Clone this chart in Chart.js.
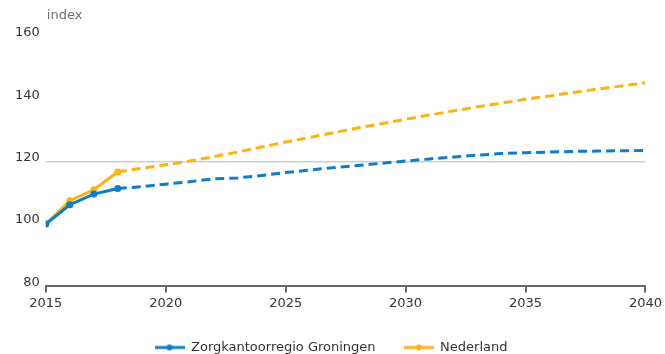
<!DOCTYPE html>
<html>
<head>
<meta charset="utf-8">
<script src="https://cdn.jsdelivr.net/npm/chart.js@4/dist/chart.umd.min.js"></script>
<style>
  html, body { margin: 0; padding: 0; background: #fff; }
  #wrap { width: 665px; height: 354px; position: relative; }
</style>
</head>
<body>
<div id="wrap"><canvas id="chart"></canvas></div>
<script>
// years 2015 - 2040
const years = [2015,2016,2017,2018,2019,2020,2021,2022,2023,2024,2025,2026,2027,
  2028,2029,2030,2031,2032,2033,2034,2035,2036,2037,2038,2039,2040];

const groningen = [100,106.2,109.6,111.4,112.0,112.8,113.6,114.5,114.8,115.6,116.5,117.3,118.1,
  118.8,119.5,120.2,120.9,121.5,122.1,122.6,122.9,123.1,123.3,123.4,123.5,123.6];

const nederland = [100,107.5,111.0,116.7,117.9,119.0,120.2,121.6,123.1,124.7,126.3,127.8,129.3,
  130.8,132.2,133.6,135.0,136.3,137.6,138.8,140.0,141.1,142.2,143.3,144.3,145.3];

const seriesNames = ["Zorgkantoorregio Groningen", "Nederland"];
const yTicks = [80, 100, 120, 140, 160];
const xTicks = [2015, 2020, 2025, 2030, 2035, 2040];
const lastObserved = 2018;

const BLUE = "#0b7dcc";
const ORANGE = "#ffb20e";

// legend marker: line with a dot in the middle
function marker(color){
  const c = document.createElement("canvas");
  c.width = 30; c.height = 8;
  const g = c.getContext("2d");
  g.strokeStyle = color; g.lineWidth = 3;
  g.beginPath(); g.moveTo(0,4); g.lineTo(30,4); g.stroke();
  g.fillStyle = color;
  g.beginPath(); g.arc(15,4,3,0,Math.PI*2); g.fill();
  return c;
}

function toXY(vals){
  return years.map((y,i) => ({x: y, y: vals[i]}));
}

function makeSet(label, vals, color){
  return {
    label: label,
    data: toXY(vals),
    borderColor: color,
    backgroundColor: color,
    borderWidth: 3,
    pointRadius: ctx => (ctx.parsed && ctx.parsed.x <= lastObserved) ? 3.5 : 0,
    pointHoverRadius: 0,
    pointBorderWidth: 0,
    tension: 0,
    segment: {
      borderDash: ctx => ctx.p0.parsed.x >= lastObserved ? [9, 5] : undefined
    }
  };
}

const indexLabel = {
  id: "indexLabel",
  afterDraw(chart){
    const g = chart.ctx;
    g.save();
    g.font = "13px 'DejaVu Sans'";
    g.fillStyle = "#6e6e6e";
    g.textBaseline = "middle";
    g.fillText("index", chart.chartArea.left + 1, 16);
    g.restore();
  }
};

new Chart(document.getElementById("chart"), {
  type: "line",
  data: {
    datasets: [
      makeSet(seriesNames[0], groningen, BLUE),
      makeSet(seriesNames[1], nederland, ORANGE)
    ]
  },
  options: {
    responsive: true,
    maintainAspectRatio: false,
    animation: false,
    layout: { padding: { top: 37, right: 12, left: 9, bottom: -10 } },
    plugins: {
      tooltip: { enabled: false },
      legend: {
        position: "bottom",
        labels: {
          font: { family: "'DejaVu Sans'", size: 13 },
          color: "#333",
          usePointStyle: true,
          pointStyleWidth: 30,
          padding: 28,
          generateLabels: chart => chart.data.datasets.map((d, i) => ({
            text: d.label,
            pointStyle: marker(d.borderColor),
            fontColor: "#333",
            datasetIndex: i,
            lineWidth: 0,
            strokeStyle: "transparent",
            fillStyle: "transparent"
          }))
        }
      }
    },
    scales: {
      x: {
        type: "linear",
        min: 2015,
        max: 2040,
        afterBuildTicks: axis => { axis.ticks = xTicks.map(v => ({value: v})); },
        afterFit: axis => { axis.height -= 1; },
        ticks: {
          font: { family: "'DejaVu Sans'", size: 13 },
          color: "#333",
          padding: 3,
          maxRotation: 0,
          callback: v => String(v)
        },
        grid: {
          drawOnChartArea: false,
          drawTicks: true,
          tickLength: 6,
          color: "#666",
          lineWidth: 2
        },
        border: { display: true, color: "#666", width: 2 }
      },
      y: {
        min: 80,
        max: 160,
        afterBuildTicks: axis => { axis.ticks = yTicks.map(v => ({value: v})); },
        ticks: {
          font: { family: "'DejaVu Sans'", size: 13 },
          color: "#333",
          padding: 6,
          labelOffset: -4
        },
        grid: {
          drawTicks: false,
          color: ctx => ctx.tick && ctx.tick.value === 120 ? "#d0d0d0" : "transparent",
          lineWidth: 1.5
        },
        border: { display: false }
      }
    }
  },
  plugins: [indexLabel]
});
</script>
</body>
</html>
